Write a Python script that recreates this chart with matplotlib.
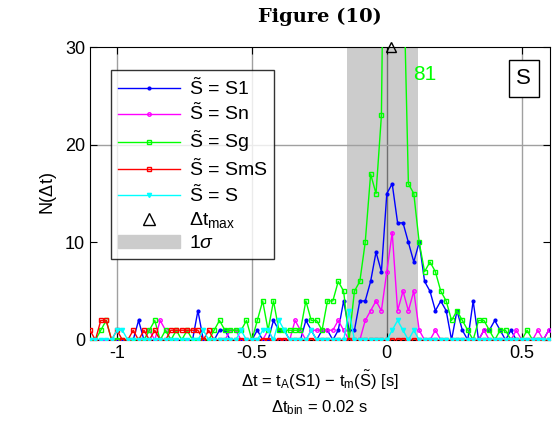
import matplotlib
matplotlib.use("Agg")
import matplotlib.pyplot as plt
import numpy as np
from matplotlib.patches import Patch
from matplotlib.lines import Line2D

plt.rcParams['font.family'] = ['Liberation Sans', 'DejaVu Sans']
plt.rcParams['mathtext.fontset'] = 'custom'
plt.rcParams['mathtext.rm'] = 'Liberation Sans'
plt.rcParams['mathtext.it'] = 'Liberation Sans:italic'

# histogram bins, width 0.02 s
t0, dt_bin, nbins = -1.10, 0.02, 86

n_S1 = [0, 0, 0, 0, 0, 0, 0, 0, 0, 2,
        0, 0, 0, 0, 0, 0, 0, 0, 0, 0,
        3, 0, 0, 0, 1, 1, 0, 0, 0, 0,
        0, 1, 0, 0, 2, 1, 1, 0, 0, 0,
        2, 1, 0, 1, 1, 0, 1, 4, 1, 1,
        4, 4, 6, 9, 7, 15, 16, 12, 12, 10,
        8, 10, 6, 5, 3, 4, 3, 0, 3, 1,
        0, 4, 0, 1, 1, 2, 1, 0, 1, 0,
        0, 0, 0, 0, 0, 1]
n_Sn = [0, 0, 0, 0, 0, 0, 0, 0, 0, 0,
        0, 1, 0, 2, 1, 0, 0, 0, 0, 0,
        0, 0, 0, 0, 0, 0, 1, 1, 0, 0,
        0, 0, 0, 1, 0, 0, 0, 0, 2, 1,
        0, 1, 1, 1, 1, 1, 2, 1, 0, 0,
        0, 2, 3, 4, 3, 7, 11, 3, 5, 3,
        5, 1, 0, 0, 1, 0, 0, 0, 0, 0,
        0, 0, 0, 1, 0, 0, 0, 0, 0, 1,
        0, 0, 0, 1, 0, 1]
n_Sg = [0, 0, 1, 2, 0, 0, 0, 0, 0, 0,
        0, 1, 2, 0, 1, 0, 1, 0, 1, 0,
        0, 0, 0, 1, 2, 1, 1, 1, 1, 2,
        0, 2, 4, 1, 4, 1, 1, 1, 1, 1,
        4, 2, 2, 1, 4, 4, 6, 5, 0, 5,
        6, 10, 17, 15, 23, 70, 81, 60, 40, 16,
        15, 10, 7, 8, 7, 5, 4, 2, 3, 2,
        1, 0, 2, 2, 1, 0, 1, 1, 0, 0,
        0, 1, 0, 0, 0, 0]
n_SmS = [1, 0, 2, 2, 0, 1, 0, 0, 1, 0,
         1, 0, 1, 0, 0, 1, 1, 1, 1, 1,
         1, 0, 1, 0, 0, 0, 0, 0, 0, 0] + [0] * 56
n_S = [0, 0, 0, 0, 0, 1, 1, 0, 0, 0,
       0, 0, 0, 0, 0, 0, 0, 0, 0, 0,
       0, 1, 0, 0, 0, 0, 0, 0, 1, 0,
       0, 0, 1, 1, 0, 2, 1, 0, 0, 0,
       0, 1, 0, 0, 0, 0, 0, 0, 3, 0,
       0, 0, 0, 0, 0, 0, 1, 2, 1, 0,
       1, 0, 0, 0, 0, 0, 0, 0, 0, 0,
       0, 0, 0, 0, 0, 0, 0, 0, 0, 0,
       0, 0, 0, 0, 0, 0]

t_max = 0.015
n_peak = max(n_Sg)
sigma_lo, sigma_hi = -0.148, 0.115

t = t0 + dt_bin * np.arange(nbins)

fig = plt.figure(figsize=(5.59, 4.45), dpi=100)
ax = fig.add_axes([0.161, 0.236, 0.823, 0.658])

ax.axvspan(sigma_lo, sigma_hi, color='#cccccc', lw=0, zorder=0)
for xg in [-1, -0.5, 0.5]:
    ax.axvline(xg, color='#a0a0a0', lw=1, zorder=1)
ax.axvline(0, color='#707070', lw=1, zorder=1)
ax.axhline(20, color='#a0a0a0', lw=1, zorder=1)

ax.plot(t, n_S1, color='#0000ff', lw=1, marker='.', ms=4, zorder=3)
ax.plot(t, n_Sn, color='#ff00ff', lw=1, marker='o', ms=2.5, mfc='none', zorder=3)
ax.plot(t, n_Sg, color='#00ff00', lw=1, marker='s', ms=3.5, mfc='none', zorder=3)
ax.plot(t, n_SmS, color='#ff0000', lw=1, marker='s', ms=3.5, mfc='none', zorder=3)
ax.plot(t, n_S, color='#00ffff', lw=1, marker='v', ms=3, zorder=3)
ax.plot([t_max], [30], marker='^', ms=7, mfc='none', mec='k', ls='none',
        clip_on=False, zorder=5)

ax.text(0.14, 27.2, str(n_peak), color='#00ff00', fontsize=15, ha='center', va='center')
ax.text(0.508, 26.8, 'S', fontsize=16, ha='center', va='center',
        bbox=dict(boxstyle='square,pad=0.35', fc='white', ec='k', lw=1))

ax.set_xlim(-1.1, 0.605)
ax.set_ylim(0, 30)
ax.set_xticks([-1, -0.5, 0, 0.5])
ax.set_xticklabels(['-1', '-0.5', '0', '0.5'])
ax.set_yticks([0, 10, 20, 30])
ax.tick_params(direction='in', top=True, right=True, labelsize=13, length=5)
ax.set_ylabel(r'N($\Delta$t)', fontsize=13)

fig.text(0.572, 0.145, r'$\Delta$t = t$_\mathrm{A}$(S1) $-$ t$_\mathrm{m}$($\tilde{\mathrm{S}}$) [s]',
         ha='center', va='center', fontsize=12)
fig.text(0.572, 0.085, r'$\Delta$t$_\mathrm{bin}$ = 0.02 s', ha='center', va='center', fontsize=12)
fig.text(0.572, 0.963, 'Figure (10)', ha='center', va='center',
         fontsize=14, family='DejaVu Serif', weight='bold')

handles = [
    Line2D([], [], color='#0000ff', lw=1, marker='.', ms=4),
    Line2D([], [], color='#ff00ff', lw=1, marker='o', ms=2.5, mfc='none'),
    Line2D([], [], color='#00ff00', lw=1, marker='s', ms=3.5, mfc='none'),
    Line2D([], [], color='#ff0000', lw=1, marker='s', ms=3.5, mfc='none'),
    Line2D([], [], color='#00ffff', lw=1, marker='v', ms=3),
    Line2D([], [], color='k', ls='none', marker='^', ms=8, mfc='none'),
    Patch(color='#cccccc'),
]
labels = [r'$\tilde{\mathrm{S}}$ = S1', r'$\tilde{\mathrm{S}}$ = Sn', r'$\tilde{\mathrm{S}}$ = Sg',
          r'$\tilde{\mathrm{S}}$ = SmS', r'$\tilde{\mathrm{S}}$ = S',
          r'$\Delta$t$_\mathrm{max}$', r'1$\mathit{\sigma}$']
leg = ax.legend(handles, labels, loc='upper left', bbox_to_anchor=(0.0457, 0.9215),
                borderaxespad=0, fontsize=14, frameon=True, fancybox=False, edgecolor='k',
                handlelength=3.2, handletextpad=0.45, labelspacing=0.22, borderpad=0.35)
leg.get_frame().set_linewidth(1)

plt.savefig('out.png', dpi=100)
